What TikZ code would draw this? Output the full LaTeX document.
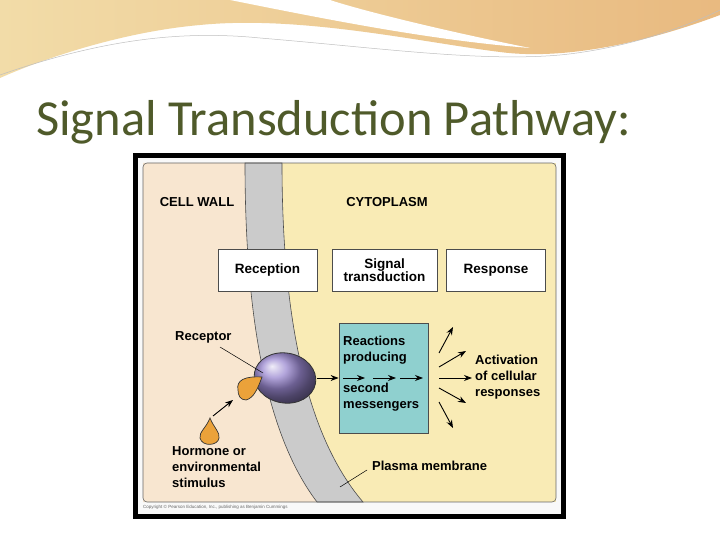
\documentclass[tikz,border=0pt]{standalone}
\usepackage{fontspec}
\setmainfont{Liberation Sans}
\newfontfamily\titlefont{Carlito}
\usetikzlibrary{arrows.meta,shapes.geometric}
\definecolor{titlecol}{HTML}{4F5A2A}
\definecolor{wallcol}{HTML}{F8E6D0}
\definecolor{cytocol}{HTML}{F9EBB5}
\definecolor{memcol}{HTML}{CBCBCB}
\definecolor{tealcol}{HTML}{8FD0CF}
\definecolor{purp}{HTML}{9A88D0}
\definecolor{orng}{HTML}{EBA23A}
\definecolor{tan1}{HTML}{E6C08E}
\definecolor{tan2}{HTML}{F2DCA8}
\tikzset{
  lbl/.style={font=\bfseries\fontsize{13}{16}\selectfont, inner sep=0pt},
  stagebox/.style={draw=black!70, fill=white, line width=0.8pt, minimum width=99pt, minimum height=42pt, font=\bfseries\fontsize{13.5}{14}\selectfont, align=center},
  arr/.style={-{Stealth[length=8pt,width=6pt]}, line width=0.9pt},
  leader/.style={line width=0.5pt}
}
\begin{document}
\begin{tikzpicture}[x=1pt,y=-1pt]
\useasboundingbox (0,0) rectangle (720,540);
\fill[white] (0,0) rectangle (720,540);
% top swoosh
\shade[left color=tan2, right color=tan1!90!orange] (0,0) -- (720,0) -- (720,15) .. controls (640,45) and (560,60) .. (500,52) .. controls (420,42) and (300,15) .. (200,25) .. controls (120,32) and (40,60) .. (0,78) -- cycle;
\fill[white] (230,0) .. controls (330,20) and (430,40) .. (530,48) .. controls (440,30) and (360,10) .. (330,0) -- cycle;
\draw[black!25, line width=0.5pt] (0,75) .. controls (100,40) and (180,30) .. (260,38) .. controls (380,48) and (480,62) .. (560,55) .. controls (630,48) and (690,25) .. (720,10);
% title
\node[anchor=base west, inner sep=0pt, text=titlecol, font=\titlefont\fontsize{50.5}{55}\selectfont] (title) at (36,136) {Signal Transduction Pathway:};
% frame
\fill[black] (133,153) rectangle (566,519);
\fill[white!95!gray] (138,158) rectangle (561,514);
\fill[cytocol] (143,163) rectangle (556,502);
\fill[wallcol] (143,163) -- (245,163) .. controls (245,330) and (270,440) .. (317,502) -- (143,502) -- cycle;
\fill[memcol, draw=black!70, line width=0.6pt] (245,163) .. controls (245,330) and (270,440) .. (317,502) -- (363,502) .. controls (310,440) and (282,330) .. (282,163) -- cycle;
\draw[black!60, line width=0.6pt, rounded corners=4pt] (143,163) rectangle (556,502);
\node[anchor=west, font=\fontsize{4.5}{5}\selectfont, text=black!60, inner sep=0pt] (copy) at (143,507) {Copyright © Pearson Education, Inc., publishing as Benjamin Cummings};
% labels
\node[lbl] (cw) at (197,202) {CELL WALL};
\node[lbl] (cy) at (387,202) {CYTOPLASM};
% stage boxes
\node[stagebox] (rec) at (267.5,270) {Reception};
\node[stagebox, minimum width=105pt] (sig) at (384.5,270) {Signal\\[-1pt]transduction};
\node[stagebox] (resp) at (496,270) {Response};
% teal box
\node[draw=black!70, fill=tealcol, line width=0.8pt, minimum width=89pt, minimum height=110pt] (tb) at (383.5,378) {};
\node[lbl, anchor=north west, align=left, font=\bfseries\fontsize{13}{16}\selectfont] (t1) at (343,336) {Reactions\\producing};
\node[lbl, anchor=north west, align=left, font=\bfseries\fontsize{13}{16}\selectfont] (t2) at (343,383) {second\\messengers};
\coordinate (a1s) at (343,378); \coordinate (a1e) at (365,378);
\coordinate (a2s) at (373,378); \coordinate (a2e) at (396,378);
\coordinate (a3s) at (400,378); \coordinate (a3e) at (423,378);
\draw[arr] (a1s) -- (a1e); \draw[arr] (a2s) -- (a2e); \draw[arr] (a3s) -- (a3e);
% receptor
\node[draw=black!80, line width=0.8pt, ellipse, inner sep=0pt, minimum width=62pt, minimum height=50pt, ball color=purp, rotate=-10] (rcp) at (285,378) {};
\fill[orng, draw=black!80, line width=0.7pt] (238,390) .. controls (236,380) and (245,376) .. (262,377) .. controls (258,388) and (254,398) .. (246,400) .. controls (240,400) and (238,395) .. (238,390) -- cycle;
% free hormone
\fill[orng, draw=black!80, line width=0.7pt] (210,418) .. controls (214,428) and (220,432) .. (219,438) .. controls (218,446) and (202,447) .. (200,438) .. controls (199,432) and (206,428) .. (210,418) -- cycle;
\coordinate (ha1) at (213,416); \coordinate (ha2) at (233,400);
\draw[arr] (ha1) -- (ha2);
% receptor -> box
\coordinate (ra) at (317,378);
\draw[arr] (ra) -- (tb.west);
% fan arrows
\coordinate (f1s) at (439,353); \coordinate (f1e) at (453,327);
\coordinate (f2s) at (439,367); \coordinate (f2e) at (466,351);
\coordinate (f3s) at (439,378); \coordinate (f3e) at (472,378);
\coordinate (f4s) at (439,388); \coordinate (f4e) at (466,403);
\coordinate (f5s) at (439,402); \coordinate (f5e) at (453,428);
\foreach \i in {1,...,5} {\draw[arr] (f\i s) -- (f\i e);}
\node[lbl, anchor=west, align=left, font=\bfseries\fontsize{13}{16}\selectfont] (act) at (475,377) {Activation\\of cellular\\responses};
% receptor label
\node[lbl, anchor=west] (rl) at (175,337) {Receptor};
\coordinate (rl1) at (220,347); \coordinate (rl2) at (263,373);
\draw[leader] (rl1) -- (rl2);
% hormone label
\node[lbl, anchor=north west, align=left] (hl) at (172,446) {Hormone or\\environmental\\stimulus};
% plasma membrane
\node[lbl, anchor=west] (pm) at (372,466) {Plasma membrane};
\coordinate (pm1) at (367,470); \coordinate (pm2) at (340,487);
\draw[leader] (pm1) -- (pm2);
\end{tikzpicture}
\end{document}
